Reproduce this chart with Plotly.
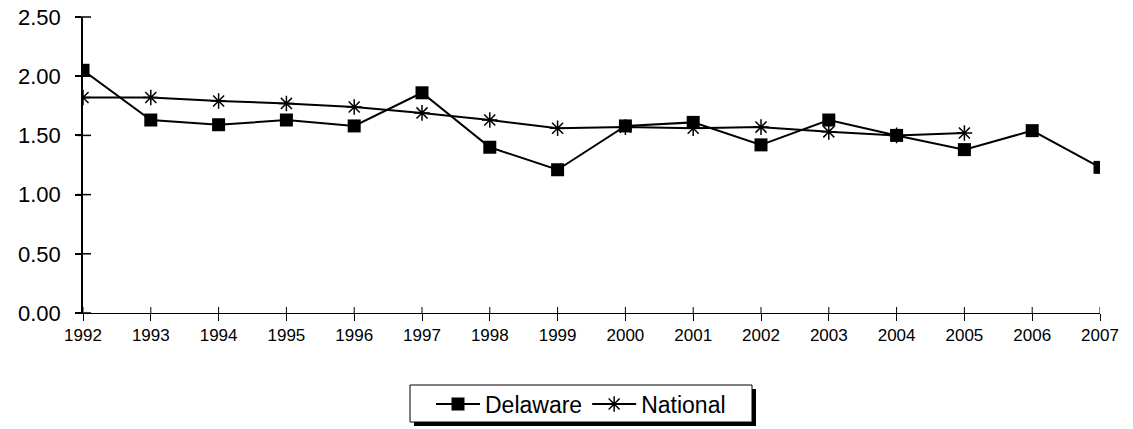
import plotly.graph_objects as go

years = list(range(1992, 2008))
delaware = [2.05, 1.63, 1.59, 1.63, 1.58, 1.86, 1.40, 1.21, 1.58, 1.61, 1.42, 1.63, 1.50, 1.38, 1.54, 1.23]
national_years = list(range(1992, 2006))
national = [1.82, 1.82, 1.79, 1.77, 1.74, 1.69, 1.63, 1.56, 1.57, 1.56, 1.57, 1.53, 1.50, 1.52]
year_labels = [str(y) for y in years]
y_ticks = [0.0, 0.5, 1.0, 1.5, 2.0, 2.5]
Y_MAX = 2.5

fig = go.Figure()
fig.add_trace(go.Scatter(
    x=years, y=delaware, name="Delaware", mode="lines+markers",
    line=dict(color="black", width=2),
    marker=dict(symbol="square", size=13, color="black"),
))
fig.add_trace(go.Scatter(
    x=national_years, y=national, name="National", mode="lines+markers",
    line=dict(color="black", width=2),
    marker=dict(symbol="asterisk-open", size=13, color="black", line=dict(width=1.5, color="black")),
))

W, H = 1133, 429
L, R, T, B = 83, 33, 17, 116
pw, ph = W - L - R, H - T - B
xr = [1992, 2007]
fig.update_layout(
    width=W, height=H,
    margin=dict(l=L, r=R, t=T, b=B, autoexpand=False),
    plot_bgcolor="white", paper_bgcolor="white",
    font=dict(family="Liberation Sans, Arial, sans-serif", color="black"),
    showlegend=True,
    legend=dict(
        orientation="h", x=(581 - 83) / pw, xanchor="center",
        y=(313 - 404) / ph, yanchor="middle",
        bgcolor="rgba(0,0,0,0)", borderwidth=0, font=dict(size=23),
        itemwidth=44,
    ),
    xaxis=dict(
        range=xr, tickvals=years, ticktext=year_labels, showgrid=False,
        showline=True, linecolor="black", linewidth=1, zeroline=False,
        ticks="outside", ticklen=7, tickcolor="black", tickwidth=1,
        tickfont=dict(size=17), ticklabeloverflow="allow", automargin=False,
    ),
    yaxis=dict(
        range=[0, Y_MAX], tickvals=y_ticks, tickformat=".2f", showgrid=False,
        showline=True, linecolor="black", linewidth=1.5, zeroline=False,
        ticks="outside", ticklen=6, tickcolor="black", tickwidth=1.5,
        tickfont=dict(size=22), ticklabelstandoff=10, ticklabeloverflow="allow",
        automargin=False,
    ),
)

def px_x(p):
    return (p - 83) / pw

def px_y(p):
    return (313 - p) / ph

# crossing y tick marks
for yv in y_ticks:
    fig.add_shape(type="line", xref="paper", yref="paper", x0=px_x(77), x1=px_x(91),
                  y0=yv / Y_MAX, y1=yv / Y_MAX, layer="above",
                  line=dict(color="black", width=1.5))
# inner halves of the crossing x tick marks
for xv in years:
    fig.add_shape(type="line", xref="x", yref="paper", x0=xv, x1=xv, y0=0, y1=6 / ph,
                  line=dict(color="black", width=1))

# legend box and drop shadow
fig.add_shape(type="rect", xref="paper", yref="paper",
              x0=px_x(414), x1=px_x(756), y0=px_y(426), y1=px_y(389),
              fillcolor="black", line=dict(width=0))
fig.add_shape(type="rect", xref="paper", yref="paper",
              x0=px_x(410), x1=px_x(752), y0=px_y(422), y1=px_y(385),
              fillcolor="white", line=dict(color="black", width=1))
fig.write_html("out.html", config={"displayModeBar": False},
               post_script="document.body.style.margin='0';")
